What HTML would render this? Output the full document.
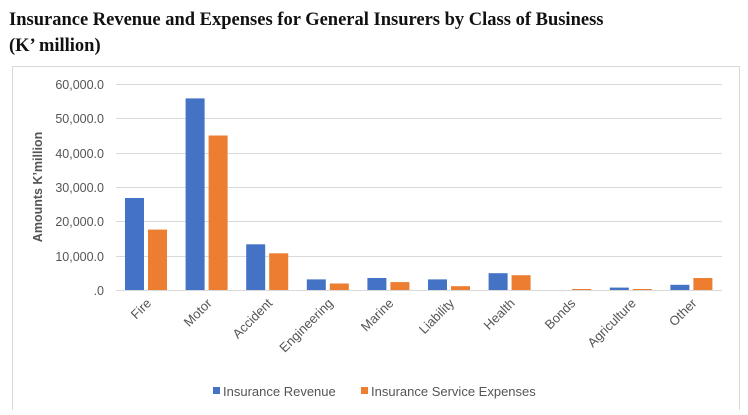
<!DOCTYPE html>
<html><head><style>
body{margin:0;background:#fff;width:748px;height:410px;overflow:hidden}
</style></head><body>
<svg width="748" height="410" xmlns="http://www.w3.org/2000/svg" font-family="Liberation Sans, sans-serif">
<text x="9" y="25" font-family="Liberation Serif, serif" font-weight="bold" font-size="18.5" fill="#111">Insurance Revenue and Expenses for General Insurers by Class of Business</text>
<text x="9" y="51" font-family="Liberation Serif, serif" font-weight="bold" font-size="18.5" fill="#111">(K’ million)</text>
<rect x="12.5" y="66.5" width="727" height="350" fill="none" stroke="#d9d9d9"/>
<g stroke="#d9d9d9" stroke-width="1">
<line x1="116" x2="722" y1="84.5" y2="84.5"/>
<line x1="116" x2="722" y1="118.5" y2="118.5"/>
<line x1="116" x2="722" y1="153.5" y2="153.5"/>
<line x1="116" x2="722" y1="187.5" y2="187.5"/>
<line x1="116" x2="722" y1="221.5" y2="221.5"/>
<line x1="116" x2="722" y1="256.5" y2="256.5"/>
<line x1="116" x2="722" y1="290.5" y2="290.5"/>
</g>
<g font-size="12.5" fill="#555" text-anchor="end">
<text x="104" y="89">60,000.0</text>
<text x="104" y="123">50,000.0</text>
<text x="104" y="158">40,000.0</text>
<text x="104" y="192">30,000.0</text>
<text x="104" y="226">20,000.0</text>
<text x="104" y="261">10,000.0</text>
<text x="104" y="295">.0</text>
</g>
<text transform="translate(42,187) rotate(-90)" text-anchor="middle" font-size="12.5" font-weight="bold" fill="#555">Amounts  K’million</text>
<g fill="#4472c4">
<rect x="125" y="198" width="19" height="92"/>
<rect x="185.6" y="98.4" width="19" height="191.6"/>
<rect x="246.2" y="244.3" width="19" height="45.7"/>
<rect x="306.8" y="279.4" width="19" height="10.6"/>
<rect x="367.4" y="278" width="19" height="12"/>
<rect x="428" y="279.4" width="19" height="10.6"/>
<rect x="488.6" y="273.2" width="19" height="16.8"/>
<rect x="609.8" y="287.6" width="19" height="2.4"/>
<rect x="670.4" y="284.8" width="19" height="5.2"/>
</g>
<g fill="#ed7d31">
<rect x="148" y="229.6" width="19" height="60.4"/>
<rect x="208.6" y="135.5" width="19" height="154.5"/>
<rect x="269.2" y="253.3" width="19" height="36.7"/>
<rect x="329.8" y="283.5" width="19" height="6.5"/>
<rect x="390.4" y="282.1" width="19" height="7.9"/>
<rect x="451" y="286.2" width="19" height="3.8"/>
<rect x="511.6" y="275.2" width="19" height="14.8"/>
<rect x="572.2" y="289" width="19" height="1"/>
<rect x="632.8" y="289" width="19" height="1"/>
<rect x="693.4" y="278" width="19" height="12"/>
</g>
<g font-size="13" fill="#555" text-anchor="end">
<text transform="translate(152,304) rotate(-45)">Fire</text>
<text transform="translate(212.6,304) rotate(-45)">Motor</text>
<text transform="translate(273.2,304) rotate(-45)">Accident</text>
<text transform="translate(333.8,304) rotate(-45)">Engineering</text>
<text transform="translate(394.4,304) rotate(-45)">Marine</text>
<text transform="translate(455,304) rotate(-45)">Liability</text>
<text transform="translate(515.6,304) rotate(-45)">Health</text>
<text transform="translate(576.2,304) rotate(-45)">Bonds</text>
<text transform="translate(636.8,304) rotate(-45)">Agriculture</text>
<text transform="translate(697.4,304) rotate(-45)">Other</text>
</g>
<rect x="213" y="387" width="7" height="7" fill="#4472c4"/>
<text x="223" y="396" font-size="13" fill="#555">Insurance Revenue</text>
<rect x="361" y="387" width="7" height="7" fill="#ed7d31"/>
<text x="371" y="396" font-size="13" fill="#555">Insurance Service Expenses</text>
</svg>
</body></html>
